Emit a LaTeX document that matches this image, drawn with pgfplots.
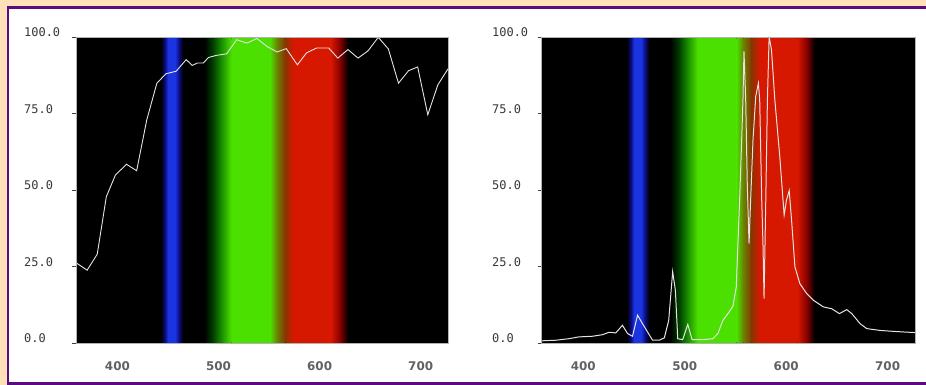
\documentclass[border=0pt]{standalone}
\usepackage{pgfplots}
\pgfplotsset{compat=1.18}
\usepackage{fontspec}
\newfontfamily\monofont{DejaVu Sans Mono}
\newfontfamily\labfont{DejaVu Sans}
\definecolor{peach}{HTML}{FFE1B9}
\definecolor{framec}{HTML}{5B0A82}
\definecolor{bdk}{HTML}{0C0C80}
\definecolor{bcore}{HTML}{1A34E0}
\definecolor{gdk}{HTML}{003C00}
\definecolor{gmid}{HTML}{1A9000}
\definecolor{gbr}{HTML}{4CE000}
\definecolor{olive}{HTML}{6A8000}
\definecolor{brown}{HTML}{8A3400}
\definecolor{redc}{HTML}{D61800}
\definecolor{rdk}{HTML}{8A0000}
\definecolor{linec}{HTML}{E4E4E4}

\pgfplotstableread{
x y
360 26.0
370 23.8
380 29.0
389 47.8
398 54.9
409 58.4
419 56.3
429 72.9
439 84.9
448 88.0
458 88.8
468 92.6
474 90.7
479 91.5
485 91.5
490 93.3
498 94.0
508 94.5
518 99.1
528 98.0
538 99.5
548 96.9
558 95.1
567 96.2
578 90.9
587 94.8
597 96.4
609 96.4
618 93.1
628 95.9
638 93.1
648 95.5
658 99.9
668 96.1
678 84.9
688 89.0
697 90.2
707 74.6
717 84.4
727 89.6
}\reflect

\pgfplotstableread{
x y
358 0.7
372.6 0.9
385.8 1.4
395.7 2.0
408.9 2.2
418.8 2.7
425.4 3.5
432 3.3
438.6 5.8
443.6 3.1
448.5 2.2
453.5 9.1
458.4 6.3
468.3 0.9
474.9 0.9
479.9 1.7
484.2 7.4
488.1 23.3
490.8 17.2
493.1 1.4
498 1.1
503 6.1
507.3 1.1
517.8 1.1
527.7 1.4
532.7 3.1
537.6 7.4
542.6 9.6
547.5 12.0
550.8 18.3
554.1 46.7
555.8 63.1
557.4 79.5
558.4 95.3
560.1 79.5
561.7 51.1
563.4 32.5
564.7 44.5
567.3 66.4
570 80.6
572.6 84.9
573.9 79.5
575.9 46.7
577.2 31.4
578.2 14.5
579.9 46.7
581.5 79.5
583.2 100
585.5 95.9
588.8 79.5
593.7 60.9
598 41.8
600.3 46.7
603 49.8
605.3 40.2
608.6 24.9
613.5 19.4
620.1 16.2
626.7 14.0
636.6 11.8
644.9 11.2
652.5 9.6
659.7 10.9
664.7 9.6
672.9 6.3
679.5 4.7
692.7 4.1
705.9 3.8
715.8 3.6
727.4 3.4
}\emission

\pgfplotsset{specax/.style={
  scale only axis, height=306bp, anchor=south west,
  ymin=0, ymax=100, xmin=359, xmax=727,
  axis background/.style={fill=black},
  axis on top,
  axis line style={draw=gray!60, line width=0.7bp},
  ytick={0,25,50,75,100}, yticklabels={0.0,25.0,50.0,75.0,100.0},
  xtick={400,500,600,700}, xticklabels={400,500,600,700},
  tick align=outside, ytick pos=left, xtick pos=bottom,
  major tick length=4bp,
  ytick style={draw=black!75, line width=0.8bp},
  xtick style={draw=none},
  yticklabel style={font=\monofont\fontsize{12}{14}\selectfont, text=black!78, anchor=south west, inner sep=0pt},
  xticklabel style={font=\labfont\bfseries\fontsize{12}{14}\selectfont, text=black!62, anchor=north, inner sep=0pt, yshift=-14bp},
  clip=true
}}

\def\ylo{0}
\def\yhi{99.6}
\newcommand{\bands}{%
  \fill[left color=black, right color=bdk] (axis cs:443,\ylo) rectangle (axis cs:447,\yhi);
  \fill[left color=bdk, right color=bcore] (axis cs:447,\ylo) rectangle (axis cs:450,\yhi);
  \fill[bcore] (axis cs:450,\ylo) rectangle (axis cs:457,\yhi);
  \fill[left color=bcore, right color=bdk] (axis cs:457,\ylo) rectangle (axis cs:461,\yhi);
  \fill[left color=bdk, right color=black] (axis cs:461,\ylo) rectangle (axis cs:465,\yhi);
  \fill[left color=black, right color=gdk] (axis cs:486,\ylo) rectangle (axis cs:494,\yhi);
  \fill[left color=gdk, right color=gmid] (axis cs:494,\ylo) rectangle (axis cs:503,\yhi);
  \fill[left color=gmid, right color=gbr] (axis cs:503,\ylo) rectangle (axis cs:513,\yhi);
  \fill[gbr] (axis cs:513,\ylo) rectangle (axis cs:551,\yhi);
  \fill[left color=gbr, right color=olive] (axis cs:551,\ylo) rectangle (axis cs:558,\yhi);
  \fill[left color=olive, right color=brown] (axis cs:558,\ylo) rectangle (axis cs:566,\yhi);
  \fill[left color=brown, right color=redc] (axis cs:566,\ylo) rectangle (axis cs:574,\yhi);
  \fill[redc] (axis cs:574,\ylo) rectangle (axis cs:611,\yhi);
  \fill[left color=redc, right color=rdk] (axis cs:611,\ylo) rectangle (axis cs:620,\yhi);
  \fill[left color=rdk, right color=black] (axis cs:620,\ylo) rectangle (axis cs:628,\yhi);
}

\begin{document}
\begin{tikzpicture}
\fill[peach] (0bp,0bp) rectangle (926bp,385bp);
\fill[framec] (7bp,0bp) rectangle (926bp,379bp);
\fill[white] (9.3bp,3.3bp) rectangle (926bp,376.3bp);

\begin{axis}[specax, width=372bp, at={(76bp,42bp)}, yticklabel style={xshift=-48bp}]
\bands
\addplot[linec, line width=0.9bp, mark=none] table[x=x,y=y] {\reflect};
\end{axis}

\begin{axis}[specax, width=373.3bp, at={(541.7bp,42bp)}, yticklabel style={xshift=-45.7bp}]
\bands
\addplot[linec, line width=1bp, mark=none] table[x=x,y=y] {\emission};
\end{axis}
\end{tikzpicture}
\end{document}
